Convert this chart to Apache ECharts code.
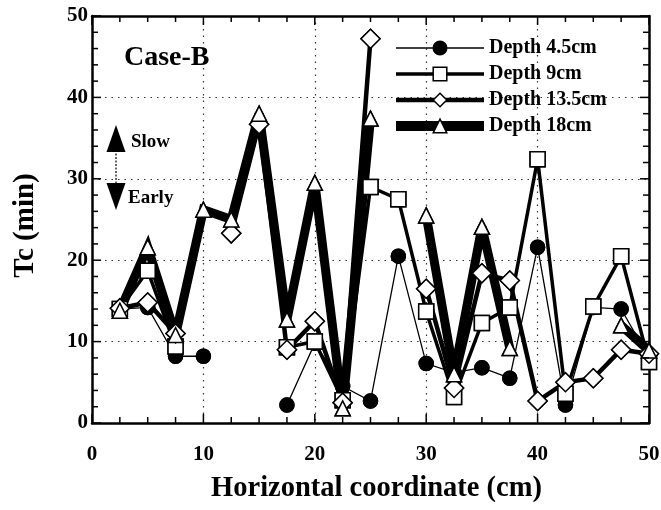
<!DOCTYPE html>
<html>
<head>
<meta charset="utf-8">
<script src="https://cdn.jsdelivr.net/npm/echarts@6/dist/echarts.min.js"></script>
<style>
html,body{margin:0;padding:0;background:#fff;}
#chart{width:661px;height:510px;}
</style>
</head>
<body>
<div id="chart"></div>
<script>
// Horizontal coordinate (cm)
const xs = [2.5, 5, 7.5, 10, 12.5, 15, 17.5, 20, 22.5, 25, 27.5, 30, 32.5, 35, 37.5, 40, 42.5, 45, 47.5, 50];
// Tc (min) per depth; null = no measurement (line gap)
const depth45  = [14.0, 14.2, 8.2, 8.2, null, null, 2.2, 9.8, 4.5, 2.7, 20.5, 7.3, 6.2, 6.8, 5.5, 21.6, 2.2, 14.2, 14.0, 8.0];
const depth9   = [14.0, 18.7, 9.4, null, null, null, 9.3, 10.0, 2.8, 29.0, 27.5, 13.7, 3.2, 12.3, 14.2, 32.4, 3.6, 14.3, 20.5, 7.5];
const depth135 = [14.1, 14.8, 11.0, null, 23.3, 36.7, 9.0, 12.5, 2.5, 47.2, null, 16.5, 4.3, 18.4, 17.5, 2.7, 5.0, 5.5, 9.0, 8.5];
const depth18  = [13.8, 21.6, 10.8, 26.2, 25.0, 38.0, 12.7, 29.5, 1.8, 37.4, null, 25.5, 6.0, 24.1, 9.2, null, null, null, 12.0, 8.9];
const seriesNames = ['Depth 4.5cm', 'Depth 9cm', 'Depth 13.5cm', 'Depth 18cm'];
// tick positions (major every 10, minor ticks between)
const xTickValues = [0, 2.5, 5, 7.5, 10, 12.5, 15, 17.5, 20, 22.5, 25, 27.5, 30, 32.5, 35, 37.5, 40, 42.5, 45, 47.5, 50];
const yTickValues = [0, 2, 4, 6, 8, 10, 12, 14, 16, 18, 20, 22, 24, 26, 28, 30, 32, 34, 36, 38, 40, 42, 44, 46, 48, 50];
const AXIS_MIN = 0, AXIS_MAX = 50;

const FONT = '"Liberation Serif", "DejaVu Serif", serif';

function pairs(arr) { return xs.map((x, i) => [x, arr[i] === null ? '-' : arr[i]]); }
function points(arr) { return xs.map((x, i) => [x, arr[i]]).filter(p => p[1] !== null); }

const styles = [
  { data: depth45,  symbol: 'circle',   size: 14, fill: '#000', width: 1.3 },
  { data: depth9,   symbol: 'rect',     size: 15, fill: '#fff', width: 3.5 },
  { data: depth135, symbol: 'diamond',  size: 19, fill: '#fff', width: 4.5 },
  { data: depth18,  symbol: 'triangle', size: 15, fill: '#fff', width: 9 }
];

const series = [];
styles.forEach((s, i) => {
  series.push({
    name: seriesNames[i], type: 'line', data: pairs(s.data),
    symbol: s.symbol, symbolSize: s.size, showAllSymbol: true, connectNulls: false,
    lineStyle: { color: '#000', width: s.width, join: 'miter', miterLimit: 4 },
    itemStyle: { color: s.fill, borderColor: '#000', borderWidth: 1.5 },
    z: 2 + i, animation: false
  });
});
styles.forEach((s, i) => {
  series.push({
    name: 'marker' + i, type: 'scatter', data: points(s.data),
    symbol: s.symbol, symbolSize: s.size,
    itemStyle: { color: s.fill, borderColor: '#000', borderWidth: 1.5, opacity: 1 },
    z: 10 + i, animation: false, silent: true
  });
});

function tickLine(x1, y1, x2, y2) {
  return { type: 'line', shape: { x1: x1, y1: y1, x2: x2, y2: y2 }, style: { stroke: '#000', lineWidth: 1.5 } };
}
// inward ticks on bottom/top
series.push({
  name: 'xticks', type: 'custom', z: 30, silent: true, clip: false, animation: false,
  data: xTickValues.map(v => [v, AXIS_MIN]),
  renderItem: function (params, api) {
    const v = api.value(0);
    const len = (v % 10 === 0) ? 9 : 6;
    const b = api.coord([v, AXIS_MIN]);
    const t = api.coord([v, AXIS_MAX]);
    return { type: 'group', children: [tickLine(b[0], b[1], b[0], b[1] - len), tickLine(t[0], t[1], t[0], t[1] + len)] };
  }
});
// inward ticks on left/right
series.push({
  name: 'yticks', type: 'custom', z: 30, silent: true, clip: false, animation: false,
  data: yTickValues.map(v => [AXIS_MIN, v]),
  renderItem: function (params, api) {
    const v = api.value(1);
    const len = (v % 10 === 0) ? 9 : 6;
    const l = api.coord([AXIS_MIN, v]);
    const r = api.coord([AXIS_MAX, v]);
    return { type: 'group', children: [tickLine(l[0], l[1], l[0] + len, l[1]), tickLine(r[0], r[1], r[0] - len, r[1])] };
  }
});

const legendData = seriesNames.map((n, i) => ({
  name: n,
  lineStyle: { color: '#000', width: styles[i].width + (i === 3 ? 1 : 0) },
  itemStyle: { color: styles[i].fill, borderColor: '#000', borderWidth: 1.5 }
}));

const gridLine = { show: true, lineStyle: { color: '#333', width: 1.2, type: [1.5, 5] } };
function axisLineStyle() { return { show: true, onZero: false, lineStyle: { color: '#000', width: 2.5 } }; }

const chart = echarts.init(document.getElementById('chart'), null, { renderer: 'canvas' });
chart.setOption({
  animation: false,
  backgroundColor: '#fff',
  grid: { left: 92, right: 12, top: 16, bottom: 87, containLabel: false, outerBoundsMode: 'none' },
  legend: {
    data: legendData, orient: 'vertical', left: 386, top: 33,
    itemWidth: 88, itemHeight: 17, itemGap: 6,
    textStyle: { fontFamily: FONT, fontWeight: 'bold', fontSize: 20, color: '#000' },
    inactiveColor: '#000', selectedMode: false
  },
  xAxis: [{
    type: 'value', min: AXIS_MIN, max: AXIS_MAX, interval: 10,
    name: 'Horizontal coordinate (cm)', nameLocation: 'middle', nameGap: 51,
    nameTextStyle: { fontFamily: FONT, fontWeight: 'bold', fontSize: 28.5, color: '#000', padding: [0, 0, 0, 12] },
    axisLine: axisLineStyle(),
    axisTick: { show: false },
    axisLabel: { fontFamily: FONT, fontWeight: 'bold', fontSize: 21, color: '#000', margin: 21 },
    splitLine: gridLine
  }, {
    type: 'value', min: AXIS_MIN, max: AXIS_MAX, interval: 10, position: 'top',
    axisLine: axisLineStyle(), axisTick: { show: false },
    axisLabel: { show: false }, splitLine: { show: false }
  }],
  yAxis: [{
    type: 'value', min: AXIS_MIN, max: AXIS_MAX, interval: 10,
    name: 'Tc (min)', nameLocation: 'middle', nameGap: 52, nameRotate: 90,
    nameTextStyle: { fontFamily: FONT, fontWeight: 'bold', fontSize: 29, color: '#000', padding: [0, 12, 0, 0] },
    axisLine: axisLineStyle(),
    axisTick: { show: false },
    axisLabel: { fontFamily: FONT, fontWeight: 'bold', fontSize: 21, color: '#000', margin: 4 },
    splitLine: gridLine
  }, {
    type: 'value', min: AXIS_MIN, max: AXIS_MAX, interval: 10, position: 'right',
    axisLine: axisLineStyle(), axisTick: { show: false },
    axisLabel: { show: false }, splitLine: { show: false }
  }],
  graphic: [
    { type: 'text', left: 124, top: 44, z: 20,
      style: { text: 'Case-B', fontFamily: FONT, fontWeight: 'bold', fontSize: 28, fill: '#000' } },
    { type: 'text', left: 131, top: 133, z: 20,
      style: { text: 'Slow', fontFamily: FONT, fontWeight: 'bold', fontSize: 19, fill: '#000' } },
    { type: 'text', left: 128, top: 189, z: 20,
      style: { text: 'Early', fontFamily: FONT, fontWeight: 'bold', fontSize: 19, fill: '#000' } },
    { type: 'polygon', z: 20, shape: { points: [[116, 125], [106.5, 152], [125.5, 152]] }, style: { fill: '#000' } },
    { type: 'polygon', z: 20, shape: { points: [[116, 210], [106.5, 183], [125.5, 183]] }, style: { fill: '#000' } },
    { type: 'line', z: 20, shape: { x1: 116, y1: 150, x2: 116, y2: 185 }, style: { stroke: '#000', lineWidth: 1.2, lineDash: [2, 1.5] } }
  ],
  series: series
});
</script>
</body>
</html>
